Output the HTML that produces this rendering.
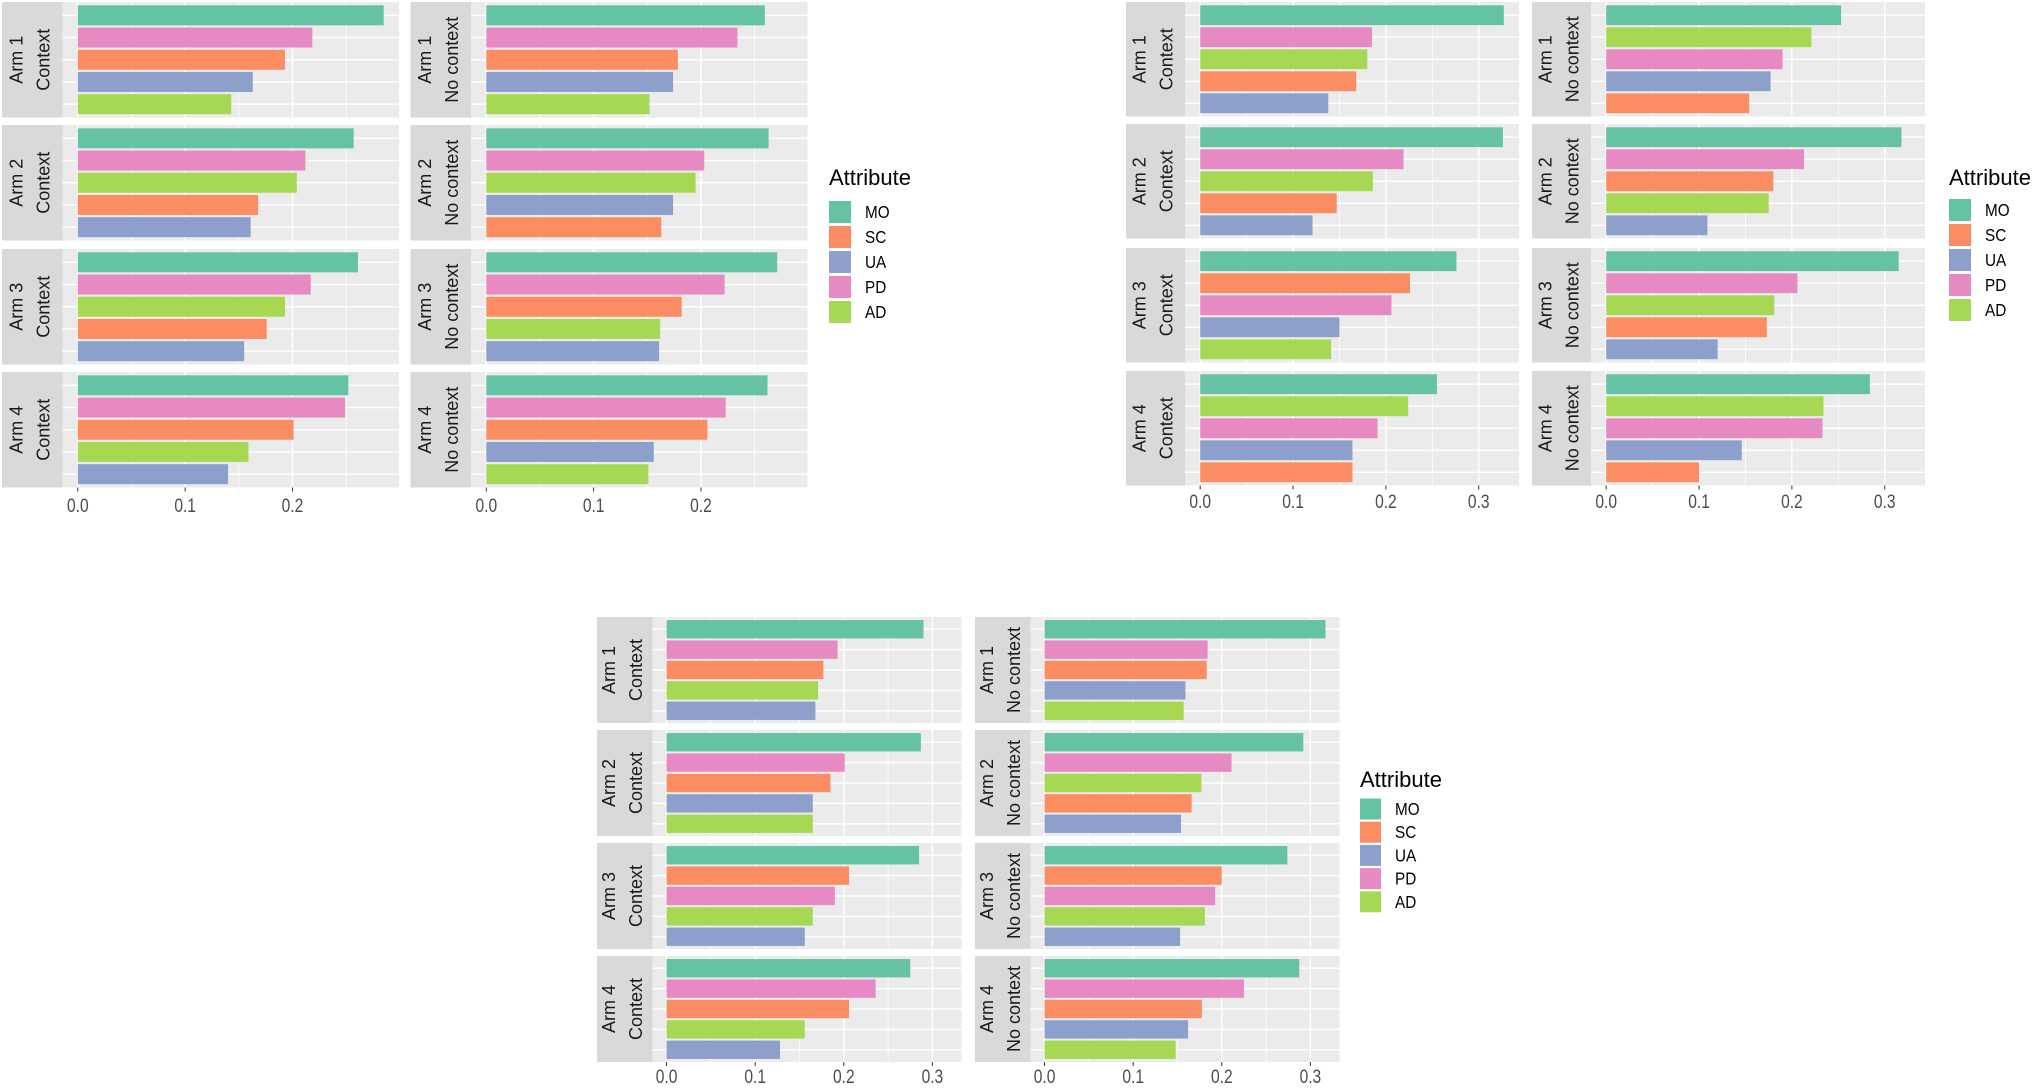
<!DOCTYPE html>
<html><head><meta charset="utf-8"><style>
html,body{margin:0;padding:0;background:#fff;}
svg{display:block;font-family:"Liberation Sans",sans-serif;}
</style></head><body>
<svg id="chart" width="2032" height="1088" viewBox="0 0 2032 1088"></svg>
<script>
// ---- data (panel order: Arm1 Context, Arm1 No context, Arm2 Context, Arm2 No context, ...) ----
const attributeNames = ["MO","SC","UA","PD","AD"];
const armLabels = ["Arm 1","Arm 2","Arm 3","Arm 4"];
const contextLabels = ["Context","No context"];
const plot1Cats = [["MO","PD","SC","UA","AD"],["MO","PD","SC","UA","AD"],["MO","PD","AD","SC","UA"],["MO","PD","AD","UA","SC"],["MO","PD","AD","SC","UA"],["MO","PD","SC","AD","UA"],["MO","PD","SC","AD","UA"],["MO","PD","SC","UA","AD"]];
const plot1Vals = [[0.285,0.2185,0.193,0.163,0.143],[0.2595,0.234,0.1785,0.174,0.152],[0.257,0.212,0.204,0.168,0.161],[0.263,0.203,0.195,0.174,0.163],[0.261,0.217,0.193,0.176,0.155],[0.271,0.222,0.182,0.162,0.161],[0.252,0.249,0.201,0.159,0.140],[0.262,0.223,0.206,0.156,0.151]];
const plot2Cats = [["MO","PD","AD","SC","UA"],["MO","AD","PD","UA","SC"],["MO","PD","AD","SC","UA"],["MO","PD","SC","AD","UA"],["MO","SC","PD","UA","AD"],["MO","PD","AD","SC","UA"],["MO","AD","PD","UA","SC"],["MO","AD","PD","UA","SC"]];
const plot2Vals = [[0.327,0.185,0.180,0.168,0.138],[0.253,0.221,0.190,0.177,0.154],[0.326,0.219,0.186,0.147,0.121],[0.318,0.213,0.180,0.175,0.109],[0.276,0.226,0.206,0.150,0.141],[0.315,0.206,0.181,0.173,0.120],[0.255,0.224,0.191,0.164,0.164],[0.284,0.234,0.233,0.146,0.100]];
const plot3Cats = [["MO","PD","SC","AD","UA"],["MO","PD","SC","UA","AD"],["MO","PD","SC","UA","AD"],["MO","PD","AD","SC","UA"],["MO","SC","PD","AD","UA"],["MO","SC","PD","AD","UA"],["MO","PD","SC","AD","UA"],["MO","PD","SC","UA","AD"]];
const plot3Vals = [[0.290,0.193,0.177,0.171,0.168],[0.317,0.184,0.183,0.159,0.157],[0.287,0.201,0.185,0.165,0.165],[0.292,0.211,0.177,0.166,0.154],[0.285,0.206,0.190,0.165,0.156],[0.274,0.200,0.1925,0.181,0.153],[0.275,0.236,0.206,0.156,0.128],[0.2875,0.225,0.1775,0.162,0.148]];
const tickValues = [0,0.1,0.2,0.3];
const tickLabels = ["0.0","0.1","0.2","0.3"];

const colors = {MO:"#66C2A5",SC:"#FC8D62",UA:"#8DA0CB",PD:"#E78AC3",AD:"#A6D854"};
const layouts = [
  {name:"plot-1", cats:plot1Cats, vals:plot1Vals, colA:2, colB:410.5, strip:60.5, pw:336.5, rows:[2,125,249,372], rh:115.5, tickY:512, legend:{x:829,y:177,key:22,step:25,first:201}},
  {name:"plot-2", cats:plot2Cats, vals:plot2Vals, colA:1126, colB:1532, strip:59, pw:334, rows:[2,124,248,371], rh:114.5, tickY:508, legend:{x:1949,y:177,key:22,step:25,first:199}},
  {name:"plot-3", cats:plot3Cats, vals:plot3Vals, colA:597, colB:975, strip:55.5, pw:309, rows:[617,730,843,956], rh:106, tickY:1083, legend:{x:1360,y:779,key:21,step:23.2,first:798.5}}
];
const NS="http://www.w3.org/2000/svg";
const svg=document.getElementById('chart');
function mk(tag,attrs,parent){const e=document.createElementNS(NS,tag);for(const k in attrs)e.setAttribute(k,attrs[k]);(parent||svg).appendChild(e);return e;}

layouts.forEach(L=>{
  const g=mk('g',{});
  
  
  let M=0; L.vals.forEach(a=>a.forEach(v=>{if(v>M)M=v;}));
  const d0=-0.05*M, d1=1.05*M;
  [L.colA,L.colB].forEach((cx,ci)=>{
    const px0=cx+L.strip;
    const xs=v=>px0+(v-d0)/(d1-d0)*L.pw;
    L.rows.forEach((ry,ri)=>{
      const pi=ri*2+ci;
      const cats=L.cats[pi], vals=L.vals[pi];
      const strip=mk('rect',{x:cx,y:ry,width:L.strip,height:L.rh,fill:"#D9D9D9"},g);
      
      
      const scx=cx+L.strip/2, scy=ry+L.rh/2;
      const t1=mk('text',{x:0,y:0,transform:`translate(${scx-10},${scy}) rotate(-90)`,'text-anchor':'middle','font-size':18,fill:"#1A1A1A"},g);
      t1.textContent=armLabels[ri];
      
      
      const t2=mk('text',{x:0,y:0,transform:`translate(${scx+17},${scy}) rotate(-90)`,'text-anchor':'middle','font-size':18,fill:"#1A1A1A"},g);
      t2.textContent=contextLabels[ci];
      
      
      const bg=mk('rect',{x:px0,y:ry,width:L.pw,height:L.rh,fill:"#EBEBEB"},g);
      
      
      for(let v=0.05; v<d1; v+=0.1){mk('line',{x1:xs(v),x2:xs(v),y1:ry,y2:ry+L.rh,stroke:"#fff","stroke-width":0.7},g);}
      tickValues.forEach(v=>{if(v<=d1)mk('line',{x1:xs(v),x2:xs(v),y1:ry,y2:ry+L.rh,stroke:"#fff","stroke-width":1.4},g);});
      const unit=L.rh/5.2;
      const ys=k=>ry+(0.6+k)*unit;
      cats.forEach((c,k)=>{mk('line',{x1:px0,x2:px0+L.pw,y1:ys(k),y2:ys(k),stroke:"#fff","stroke-width":1.4},g);});
      cats.forEach((c,k)=>{
        const b=mk('rect',{x:xs(0),y:ys(k)-0.45*unit,width:xs(vals[k])-xs(0),height:0.9*unit,fill:colors[c]},g);
        
        
      });
      if(ri===3){
        tickValues.forEach((v,ti)=>{
          if(v>d1)return;
          mk('line',{x1:xs(v),x2:xs(v),y1:ry+L.rh,y2:ry+L.rh+4,stroke:"#333","stroke-width":1},g);
          const tl=mk('text',{x:0,y:0,transform:`translate(${xs(v)},${L.tickY}) scale(0.82,1)`,'text-anchor':'middle','font-size':19,fill:"#4D4D4D"},g);
          tl.textContent=tickLabels[ti];
          
          
        });
      }
    });
  });
  const lg=mk('g',{},g);
  
  
  const tt=mk('text',{x:L.legend.x,y:L.legend.y+8,'font-size':22,fill:"#000"},lg);
  tt.textContent="Attribute";
  
  
  attributeNames.forEach((a,i)=>{
    const y=L.legend.first+i*L.legend.step;
    const kr=mk('rect',{x:L.legend.x,y:y,width:L.legend.key,height:L.legend.key,fill:colors[a]},lg);
    
    
    const lt=mk('text',{x:0,y:0,transform:`translate(${L.legend.x+L.legend.key+14},${y+L.legend.key/2+6}) scale(0.85,1)`,'font-size':18,fill:"#000"},lg);
    lt.textContent=a;
    
    
  });
});
</script>
</body></html>
